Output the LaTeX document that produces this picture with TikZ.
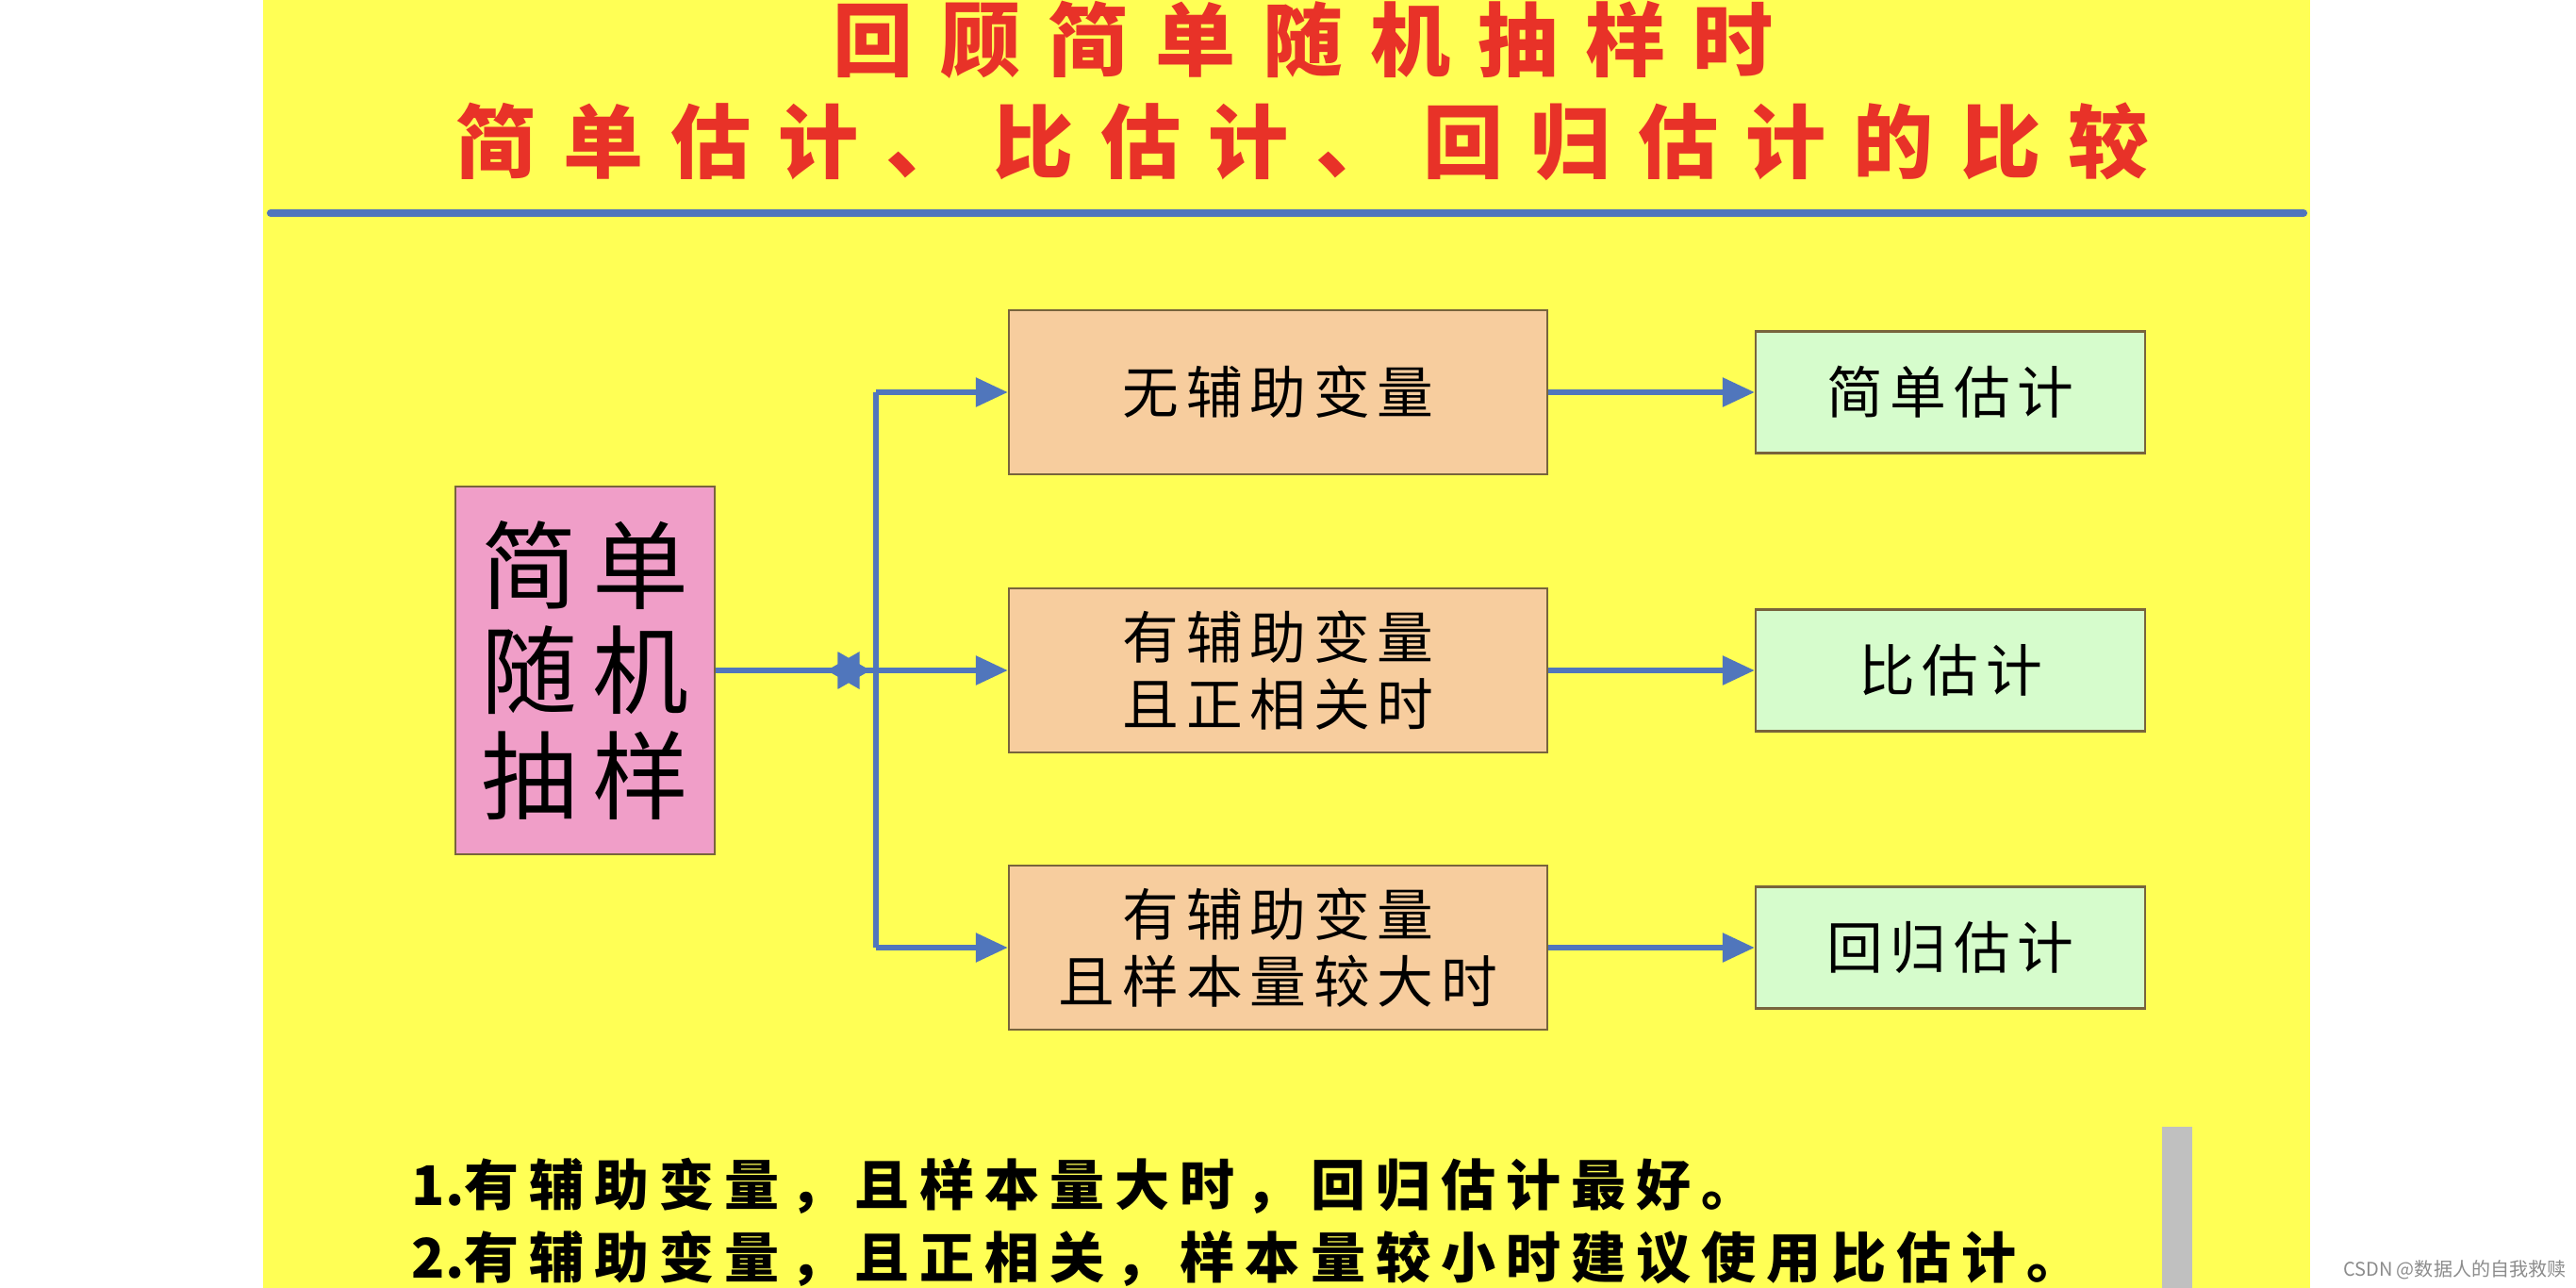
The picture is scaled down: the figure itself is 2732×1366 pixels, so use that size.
\documentclass[tikz,border=0pt]{standalone}
\usepackage{fontspec}
\usetikzlibrary{arrows.meta,shapes.geometric}
\newfontfamily\cjktitle{Noto Sans CJK SC}[LetterSpace=34]
\newfontfamily\cjkbig{Noto Sans CJK SC}[LetterSpace=15]
\newfontfamily\cjkbox{Noto Sans CJK SC}[LetterSpace=13]
\newfontfamily\cjknote{Noto Sans CJK SC}[LetterSpace=19]
\newfontfamily\cjkmark{Noto Sans CJK SC}
\definecolor{bgyellow}{RGB}{255,255,85}
\definecolor{lineblue}{RGB}{80,118,188}
\definecolor{titlered}{RGB}{232,50,40}
\definecolor{pinkfill}{RGB}{240,158,200}
\definecolor{orangefill}{RGB}{247,205,158}
\definecolor{greenfill}{RGB}{214,252,204}
\definecolor{boxline}{RGB}{120,100,60}
\definecolor{barfill}{RGB}{192,192,192}
\definecolor{wmgray}{RGB}{140,140,140}
\begin{document}
\begin{tikzpicture}[x=0.01cm,y=-0.01cm,
  titletext/.style={text=titlered, inner sep=0,
    font=\cjktitle\bfseries\fontsize{24.2}{26}\selectfont},
  boxbase/.style={draw=boxline, line width=0.6pt, inner sep=0, align=center},
  pinkbox/.style={boxbase, fill=pinkfill, minimum width=2.75cm, minimum height=3.90cm,
    font=\cjkbig\fontsize{29}{31.6}\selectfont},
  obox/.style={boxbase, fill=orangefill, minimum width=5.71cm, minimum height=1.74cm,
    font=\cjkbox\fontsize{17}{20.2}\selectfont},
  gbox/.style={boxbase, fill=greenfill, minimum width=4.13cm, minimum height=1.29cm,
    font=\cjkbox\fontsize{17}{20.2}\selectfont},
  conn/.style={draw=lineblue, line width=1.7pt},
  arr/.style={conn, -{Triangle[length=0.34cm,width=0.30cm]}},
  notetext/.style={anchor=west, inner sep=0,
    font=\cjknote\bfseries\fontsize{16.5}{18}\selectfont}]
\useasboundingbox (0,0) rectangle (2732,1366);
\fill[white] (0,0) rectangle (2732,1366);
\fill[bgyellow] (279,0) rectangle (2450,1366);
% title
\node[titletext] (t1) at (1382,42) {回顾简单随机抽样时};
\node[titletext] (t2) at (1381,150) {简单估计、比估计、回归估计的比较};
\draw[lineblue, line width=2.3pt, line cap=round] (287,226) -- (2443,226);
% boxes
\node[pinkbox] (p) at (620.5,711) {简单\\随机\\抽样};
\node[obox] (o1) at (1355.5,416) {无辅助变量};
\node[obox] (o2) at (1355.5,711) {有辅助变量\\且正相关时};
\node[obox] (o3) at (1355.5,1005) {有辅助变量\\且样本量较大时};
\node[gbox] (g1) at (2068.5,416) {简单估计};
\node[gbox] (g2) at (2068.5,711) {比估计};
\node[gbox] (g3) at (2068.5,1005) {回归估计};
% connectors
\coordinate (bt) at (929,416);
\coordinate (bm) at (929,711);
\coordinate (bb) at (929,1005);
\draw[conn] (bm) -- (bt);
\draw[conn] (bm) -- (bb);
\draw[arr] (bt) -- (o1.west);
\draw[arr] (bb) -- (o3.west);
\draw[arr] (p.east) -- (o2.west);
\node[star, star points=6, star point ratio=1.73, minimum size=0.46cm, inner sep=0,
  fill=lineblue, shape border rotate=90] (tip) at (900,711) {};
\draw[arr] (o1.east) -- (g1.west);
\draw[arr] (o2.east) -- (g2.west);
\draw[arr] (o3.east) -- (g3.west);
% notes
\node[notetext] (n1) at (436,1258) {{\cjkmark\bfseries 1.}有辅助变量，且样本量大时，回归估计最好。};
\node[notetext] (n2) at (436,1335) {{\cjkmark\bfseries 2.}有辅助变量，且正相关，样本量较小时建议使用比估计。};
\fill[barfill] (2293,1195) rectangle (2325,1366);
\node[anchor=east, inner sep=0, text=wmgray, font=\cjkmark\fontsize{5.7}{6}\selectfont] (wm) at (2722,1347) {CSDN @数据人的自我救赎};
\end{tikzpicture}
\end{document}
